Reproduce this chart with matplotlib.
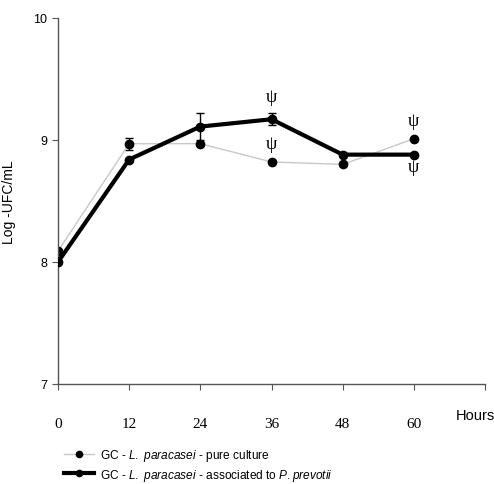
import matplotlib
matplotlib.use("Agg")
import matplotlib.pyplot as plt
from matplotlib.lines import Line2D

hours = [0, 12, 24, 36, 48, 60]
pure = [8.09, 8.97, 8.97, 8.82, 8.80, 9.01]
pure_err = [0, 0.05, 0, 0, 0, 0]
assoc = [8.00, 8.84, 9.11, 9.17, 8.88, 8.88]
assoc_err = [0, 0, 0.11, 0.05, 0, 0]
x_ticks = [0, 12, 24, 36, 48, 60, 72]
x_labels = ["0", "12", "24", "36", "48", "60", ""]
y_ticks = [7, 8, 9, 10]
# significance marks
psi_marks = [(36, 9.36), (36, 8.97), (60, 9.16), (60, 8.78)]

plt.rcParams['font.family'] = ['Liberation Sans', 'DejaVu Sans']
plt.rcParams['mathtext.fontset'] = 'custom'
plt.rcParams['mathtext.it'] = 'Liberation Sans:italic'
plt.rcParams['mathtext.rm'] = 'Liberation Sans'

fig = plt.figure(figsize=(4.94, 4.85), dpi=100)
ax = fig.add_axes([58/494, 1-385/485, (485-58)/494, (385-19)/485])

ax.errorbar(hours, pure, yerr=pure_err, color='#c8c8c8', lw=1.0, marker='o',
            ms=6, mfc='black', mec='black', ecolor='black', elinewidth=1,
            capsize=3, zorder=2)
ax.errorbar(hours, assoc, yerr=assoc_err, color='black', lw=3.0, marker='o',
            ms=6, mfc='black', mec='black', ecolor='black', elinewidth=1,
            capsize=3, zorder=3)

for (xp, yp) in psi_marks:
    ax.text(xp, yp, "ψ", ha='center', va='center', fontsize=13,
            family=['Liberation Serif', 'DejaVu Serif'], color='black')

ax.set_xlim(0, 72)
ax.set_ylim(7, 10)
ax.set_xticks(x_ticks)
ax.set_xticklabels(x_labels, family=['Liberation Serif', 'DejaVu Serif'], fontsize=11)
ax.set_yticks(y_ticks)
ax.set_yticklabels([str(v) for v in y_ticks], fontsize=9)
ax.tick_params(axis='x', direction='out', length=4, pad=20, color='#555555')
ax.tick_params(axis='y', direction='out', length=4, pad=4, color='#555555')
for s in ['top', 'right']:
    ax.spines[s].set_visible(False)
for s in ['left', 'bottom']:
    ax.spines[s].set_color('#555555')
    ax.spines[s].set_linewidth(1.0)

ax.set_ylabel("Log -UFC/mL", fontsize=10)
ax.yaxis.set_label_coords((16-58)/427, 0.5 + (202-202)/366)
fig.text(456/494, 1-416/485, "Hours", fontsize=10.5, va='center', ha='left')

handles = [
    Line2D([0], [0], color='#c8c8c8', lw=1.0, marker='o', ms=4.5, mfc='black', mec='black'),
    Line2D([0], [0], color='black', lw=3.0, marker='o', ms=4.5, mfc='black', mec='black'),
]
labels = [r"GC - $L.\ paracasei$ - pure culture",
          r"GC - $L.\ paracasei$ - associated to $P.prevotii$"]
fig.legend(handles, labels, loc='upper left', bbox_to_anchor=(64/494, 1-448/485),
           frameon=False, fontsize=8.6, handlelength=2.5, handletextpad=0.5,
           labelspacing=0.3, borderpad=0, borderaxespad=0)

fig.savefig("out.png", dpi=100)
